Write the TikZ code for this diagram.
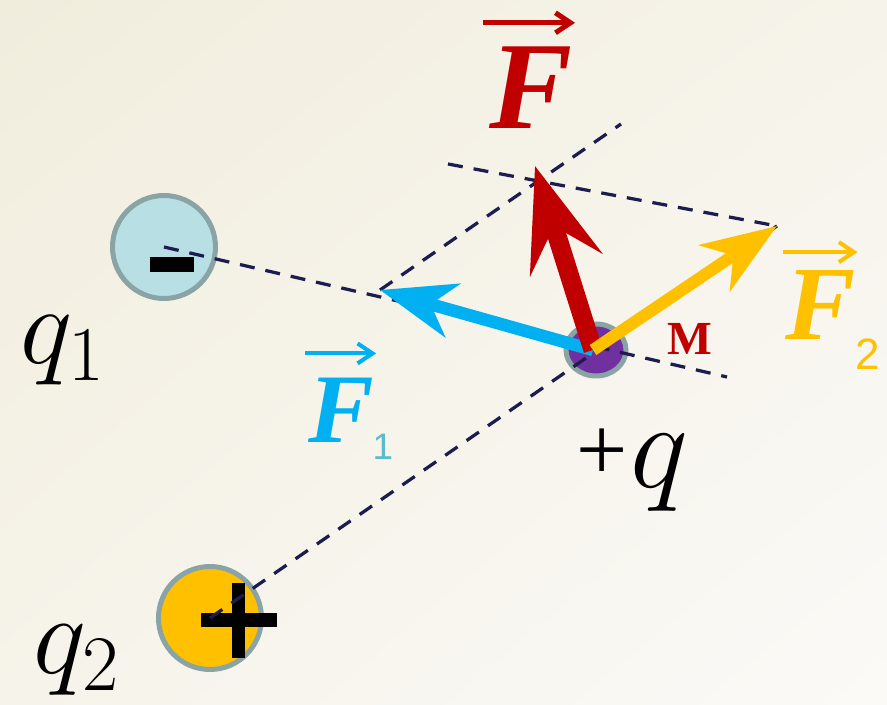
\documentclass[tikz,border=0pt]{standalone}
\usepackage{fix-cm}
\usepackage{fontspec}
\setmainfont{Liberation Serif}
\newfontfamily\cifra{Liberation Sans}
\usetikzlibrary{shapes.geometric,shadings,arrows.meta,positioning,calc}
\definecolor{rojo}{HTML}{C00000}
\definecolor{azul}{HTML}{00B0F0}
\definecolor{turquesa}{HTML}{5CBCCC}
\definecolor{amarillo}{HTML}{FFC000}
\definecolor{morado}{HTML}{7030A0}
\definecolor{celeste}{HTML}{B8E0E4}
\definecolor{borde}{HTML}{8AA3A5}
\definecolor{marino}{HTML}{1C1C4E}
\definecolor{fondoA}{HTML}{F1EDDD}
\definecolor{fondoB}{HTML}{F6F3EA}
\definecolor{fondoC}{HTML}{FBFAF7}

\begin{document}
\begin{tikzpicture}[x=0.02cm,y=-0.02cm,
  carga/.style={circle,draw=borde,line width=0.1cm,inner sep=0pt,minimum size=2.06cm},
  guia/.style={draw=marino,line width=0.065cm,dash pattern=on 0.3cm off 0.22cm},
  fuerza/.style={line width=0.25cm,-{Stealth[length=1.5cm,width=1.1cm,inset=0.45cm]}},
  etiqueta/.style={inner sep=0pt},
  sobre/.style={line width=0.08cm,-{Straight Barb[length=0.3cm,width=0.4cm]}}
]
\useasboundingbox (0,0) rectangle (887,705);
\shade[upper left=fondoA,upper right=fondoB,lower left=fondoB,lower right=fondoC]
  (0,0) rectangle (887,705);

% cargas
\node[carga,fill=celeste] (q1) at (164,247) {};
\node[carga,fill=amarillo] (q2) at (210,618) {};
\node[ellipse,draw=borde,line width=0.1cm,fill=morado,inner sep=0pt,
      minimum width=1.2cm,minimum height=1.04cm] (q) at (596,350) {};
\fill ([shift={(-14,10)}]q1.center) rectangle +(44,15);
\fill ([shift={(-9,-5)}]q2.center) rectangle +(76,14);
\fill ([shift={(22,-35)}]q2.center) rectangle +(13,75);

\coordinate (O) at (593,350);
\coordinate (t1) at (380,290);
\coordinate (t2) at (777,226);
\coordinate (tF) at (535,166);
\coordinate (g1) at (727,377);
\coordinate (g3) at (621,124);
\coordinate (g4) at (448,164);

% lineas auxiliares
\foreach \a/\b in {q1.center/g1,q2.center/t2,t1/g3,g4/t2}
  \draw[guia] (\a) -- (\b);

% fuerzas
\draw[fuerza,azul] (O) -- (t1);
\draw[fuerza,rojo,line width=0.38cm,
      -{Stealth[length=2.06cm,width=1.5cm,inset=0.8cm]}] (O) -- (tF);
\draw[fuerza,amarillo,line width=0.24cm] (O) -- (t2);

% etiquetas
\node[etiqueta,text=rojo,font=\fontsize{71}{71}\selectfont\bfseries\itshape] (F) at (531,88) {F};
\node[etiqueta,text=azul,font=\fontsize{56}{56}\selectfont\bfseries\itshape] (F1) at (341,410) {F};
\node[etiqueta,text=amarillo,font=\fontsize{60}{60}\selectfont\bfseries\itshape] (F2) at (821,305) {F};
\node[etiqueta,text=turquesa,font=\cifra\fontsize{21}{21}\selectfont] (F1s) at (383,447) {1};
\node[etiqueta,text=amarillo,font=\cifra\fontsize{25}{25}\selectfont] (F2s) at (868,354) {2};
\draw[sobre,rojo,line width=0.1cm] ([shift={(-6,-24)}]F.north west) -- ([shift={(2,-24)}]F.north east);
\draw[sobre,azul] ([shift={(-3,-24)}]F1.north west) -- ([shift={(2,-24)}]F1.north east);
\draw[sobre,amarillo] ([shift={(-2,-18)}]F2.north west) -- ([shift={(1,-18)}]F2.north east);
\node[etiqueta,text=rojo,font=\fontsize{27}{27}\selectfont\bfseries] (M) at (690,339) {M};
\node[etiqueta,anchor=base west,font=\fontsize{70}{70}\selectfont] (qlab) at (570,488)
  {\raisebox{4pt}{\fontsize{52}{52}\selectfont\itshape +}\kern-1pt$q$};
\node[etiqueta,anchor=base west,font=\fontsize{63}{63}\selectfont] (q1lab) at (20,364) {$q_1$};
\node[etiqueta,anchor=base west,font=\fontsize{64}{64}\selectfont] (q2lab) at (33,674) {$q_2$};
\end{tikzpicture}
\end{document}
